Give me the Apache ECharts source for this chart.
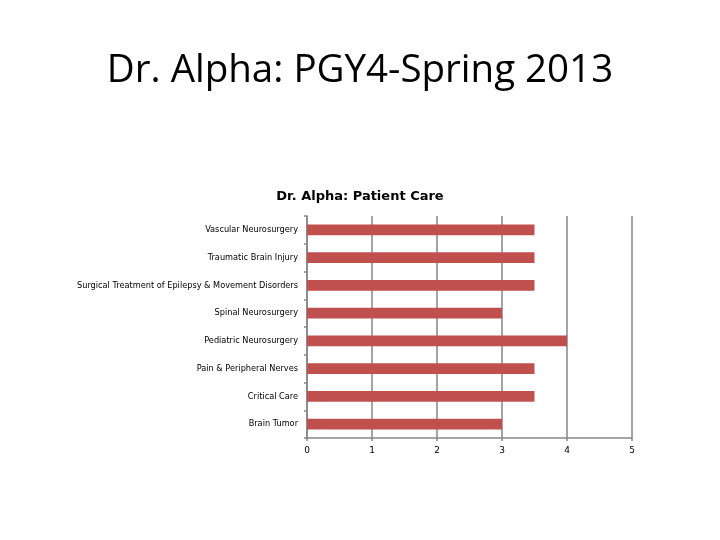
<!DOCTYPE html>
<html><head><meta charset="utf-8">
<script src="https://cdn.jsdelivr.net/npm/echarts@6/dist/echarts.min.js"></script>
<style>html,body{margin:0;padding:0;background:#fff}#c{width:720px;height:540px}</style>
</head><body><div id="c"></div>
<script>
var categories = ["Vascular Neurosurgery","Traumatic Brain Injury","Surgical Treatment of Epilepsy & Movement Disorders","Spinal Neurosurgery","Pediatric Neurosurgery","Pain & Peripheral Nerves","Critical Care","Brain Tumor"];
var scores = [3.5, 3.5, 3.5, 3, 4, 3.5, 3.5, 3];
var xTicks = [0, 1, 2, 3, 4, 5];

var chart = echarts.init(document.getElementById('c'));
chart.setOption({
  animation: false,
  title: [
    {text: 'Dr. Alpha: PGY4-Spring 2013', left: 'center', top: 47,
     textStyle: {fontFamily: 'Open Sans', fontSize: 38.5, fontWeight: 'normal', color: '#000'}},
    {text: 'Dr. Alpha: Patient Care', left: 'center', top: 185,
     textStyle: {fontFamily: 'DejaVu Sans', fontSize: 13, fontWeight: 'bold', color: '#000'}}
  ],
  grid: {left: 307, right: 88, top: 216, bottom: 102, containLabel: false},
  xAxis: {
    type: 'value', min: xTicks[0], max: xTicks[xTicks.length-1], interval: 1,
    axisLine: {show: true, lineStyle: {color: '#868686', width: 1.5}},
    axisTick: {show: true, length: 3, lineStyle: {color: '#868686', width: 1.5}},
    splitLine: {show: true, lineStyle: {color: '#868686', width: 1.5}},
    axisLabel: {fontFamily: 'DejaVu Sans', fontSize: 9, color: '#000', margin: 8}
  },
  yAxis: {
    type: 'category', data: categories, inverse: true,
    axisLine: {show: true, lineStyle: {color: '#868686', width: 1.5}},
    axisTick: {show: true, length: 3, lineStyle: {color: '#868686', width: 1.5}},
    axisLabel: {fontFamily: 'DejaVu Sans', fontSize: 8.2, color: '#000', margin: 9}
  },
  series: [{
    type: 'bar', data: scores, barWidth: '38%',
    itemStyle: {color: '#C0504D'}
  }]
});
</script></body></html>
